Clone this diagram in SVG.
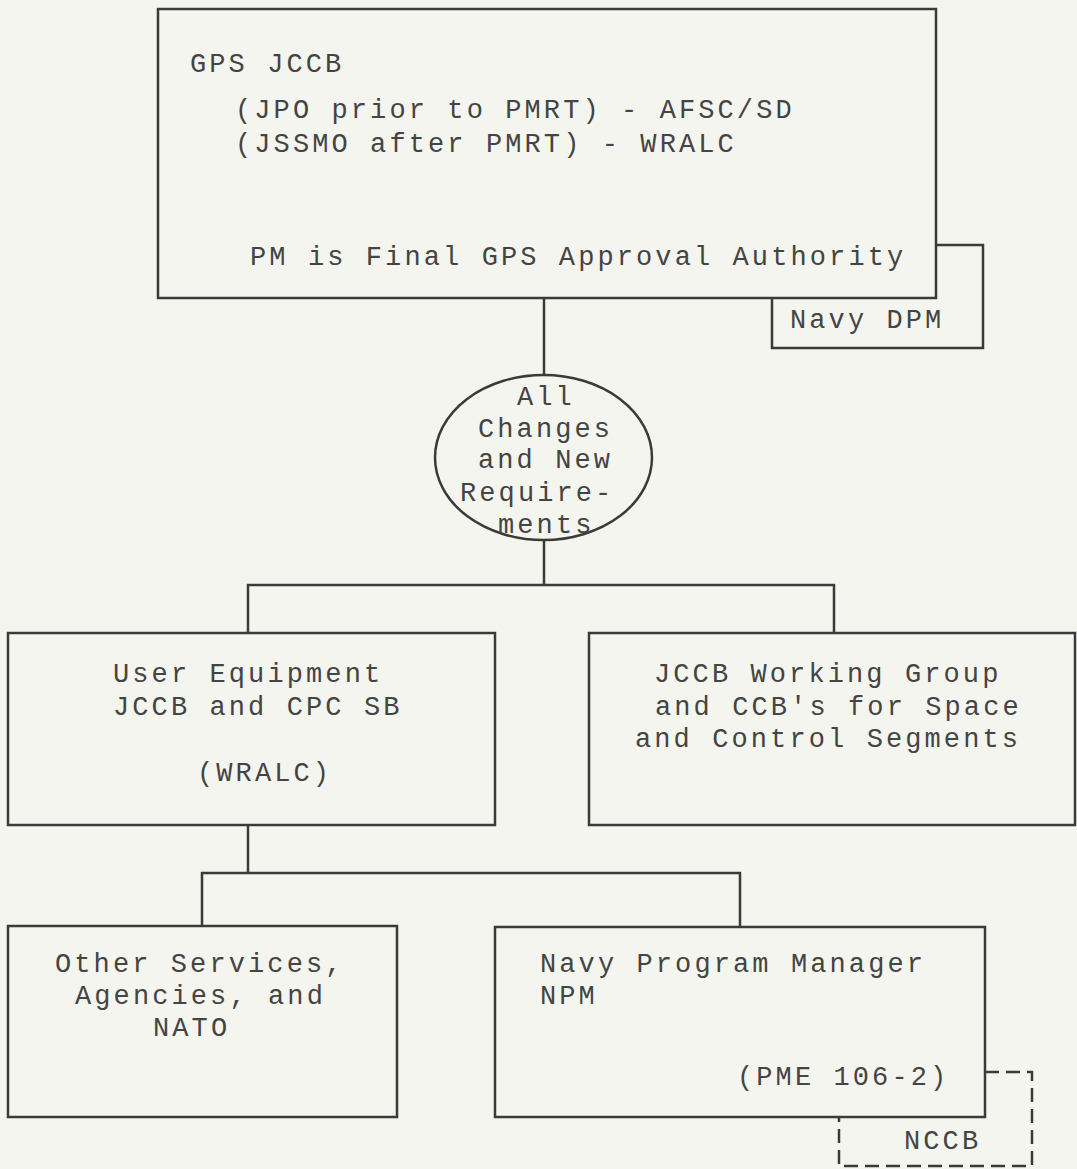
<svg xmlns="http://www.w3.org/2000/svg" width="1077" height="1169" viewBox="0 0 1077 1169">
<style>
.bg{fill:#f5f5ef}
.box{fill:none;stroke:#3a3a3a;stroke-width:2.5}
.ln{fill:none;stroke:#3a3a3a;stroke-width:2.5}
.dash{fill:none;stroke:#3a3a3a;stroke-width:2.5;stroke-dasharray:14 7}
text{font-family:"Liberation Mono","DejaVu Sans Mono",monospace;font-size:27px;letter-spacing:3.1px;fill:#444}
</style>
<rect class="bg" x="0" y="0" width="1077" height="1169"/>
<g id="connectors">
<line class="ln" x1="544" y1="298" x2="544" y2="375"/>
<line class="ln" x1="544" y1="540" x2="544" y2="585"/>
<polyline class="ln" points="248,633 248,585 834,585 834,633"/>
<line class="ln" x1="248" y1="825" x2="248" y2="873"/>
<polyline class="ln" points="202,926 202,873 740,873 740,927"/>
</g>
<g id="gps-jccb">
<rect class="box" x="158" y="9" width="778" height="289"/>
<text x="190" y="72">GPS JCCB</text>
<text x="235" y="118">(JPO prior to PMRT) - AFSC/SD</text>
<text x="235" y="152">(JSSMO after PMRT) - WRALC</text>
<text x="250" y="265">PM is Final GPS Approval Authority</text>
</g>
<g id="navy-dpm">
<path class="box" d="M936,245 H983 V348 H772 V298"/>
<text x="790" y="328">Navy DPM</text>
</g>
<g id="all-changes">
<ellipse class="box" cx="543.5" cy="457.5" rx="108.5" ry="82.5"/>
<text x="517" y="405">All</text>
<text x="478" y="437">Changes</text>
<text x="478" y="468">and New</text>
<text x="460" y="501">Require-</text>
<text x="498" y="533">ments</text>
</g>
<g id="user-equipment">
<rect class="box" x="8" y="633" width="487" height="192"/>
<text x="113" y="682">User Equipment</text>
<text x="113" y="715">JCCB and CPC SB</text>
<text x="197" y="781">(WRALC)</text>
</g>
<g id="jccb-working-group">
<rect class="box" x="589" y="633" width="486" height="192"/>
<text x="654" y="682">JCCB Working Group</text>
<text x="655" y="715">and CCB's for Space</text>
<text x="635" y="747">and Control Segments</text>
</g>
<g id="other-services">
<rect class="box" x="8" y="926" width="389" height="191"/>
<text x="55" y="972">Other Services,</text>
<text x="75" y="1004">Agencies, and</text>
<text x="153" y="1036">NATO</text>
</g>
<g id="navy-pm">
<rect class="box" x="495" y="927" width="490" height="190"/>
<text x="540" y="972">Navy Program Manager</text>
<text x="540" y="1004">NPM</text>
<text x="737" y="1085">(PME 106-2)</text>
</g>
<g id="nccb">
<path class="dash" d="M985,1072 H1032 V1166 H839 V1117"/>
<text x="904" y="1149">NCCB</text>
</g>
</svg>
